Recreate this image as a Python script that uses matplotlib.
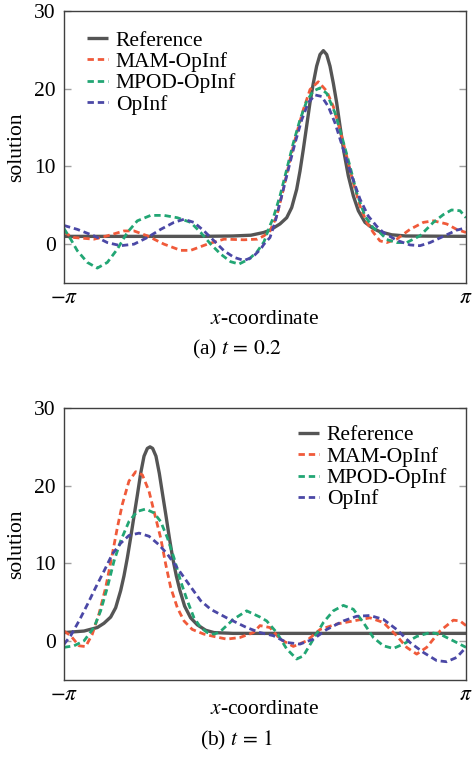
import matplotlib
matplotlib.use("Agg")
import matplotlib.pyplot as plt
import numpy as np

plt.rcParams["font.family"] = ["Liberation Serif", "DejaVu Serif"]
plt.rcParams["mathtext.fontset"] = "stix"

# ---- panel (a), t = 0.2 ----
a_ref_x = [-3.142, -1.0, -0.5, -0.22, -0.02, 0.078, 0.234, 0.339, 0.417, 0.495, 0.547, 0.599,
           0.651, 0.703, 0.755, 0.807, 0.860, 0.912, 0.964, 1.016, 1.068, 1.120, 1.172, 1.235,
           1.302, 1.381, 1.459, 1.563, 1.693, 1.797, 1.98, 2.2, 3.142]
a_ref_y = [1.0, 1.0, 1.05, 1.15, 1.5, 1.8, 2.6, 3.4, 4.7, 7.05, 9.4, 12.2,
           15.2, 18.2, 20.7, 22.9, 24.4, 24.9, 24.4, 22.9, 20.7, 18.2, 15.2, 11.8,
           8.8, 6.2, 4.3, 2.8, 2.0, 1.6, 1.2, 1.05, 1.0]

a_mam_x = [-3.142, -2.985, -2.673, -2.464, -2.204, -2.047, -1.839, -1.579, -1.318, -1.162, -0.901,
           -0.641, -0.328, -0.120, -0.016, 0.078, 0.183, 0.286, 0.391, 0.496, 0.599, 0.704, 0.833,
           0.964, 1.068, 1.172, 1.277, 1.380, 1.485, 1.590, 1.693, 1.797, 1.902, 2.058, 2.266,
           2.475, 2.631, 2.839, 2.995, 3.142]
a_mam_y = [1.5, 0.85, 0.64, 1.07, 1.7, 1.7, 1.07, 0.0, -0.8, -0.8, 0.0,
           0.64, 0.56, 0.64, 1.07, 1.7, 3.6, 7.05, 10.9, 14.3, 17.3, 19.9, 20.9,
           19.7, 17.7, 14.7, 11.3, 7.9, 4.9, 2.8, 1.5, 0.42, 0.2, 0.64, 1.9,
           2.8, 3.0, 2.6, 1.9, 1.5]

a_mpod_x = [-3.142, -3.037, -2.933, -2.777, -2.621, -2.464, -2.308, -2.152, -1.995, -1.787, -1.579,
            -1.370, -1.162, -1.005, -0.849, -0.693, -0.537, -0.406, -0.250, -0.125, -0.016, 0.078,
            0.130, 0.234, 0.339, 0.442, 0.547, 0.652, 0.755, 0.860, 0.964, 1.094, 1.199, 1.329,
            1.433, 1.563, 1.693, 1.797, 1.902, 2.058, 2.214, 2.422, 2.631, 2.787, 2.917, 3.048, 3.142]
a_mpod_y = [2.0, 0.64, -0.85, -2.35, -3.08, -2.35, -0.64, 1.5, 3.0, 3.7, 3.7,
            3.4, 2.8, 1.5, 0.0, -1.28, -2.26, -2.56, -1.92, -1.0, 0.3, 2.4,
            3.4, 6.2, 9.6, 13.0, 16.0, 18.4, 19.7, 20.1, 19.4, 16.9, 13.9, 10.0,
            6.6, 3.6, 2.1, 1.5, 0.6, 0.2, 0.2, 1.07, 2.8, 3.8, 4.4, 4.3, 3.4]

a_opinf_x = [-3.142, -2.933, -2.673, -2.464, -2.256, -2.047, -1.839, -1.631, -1.423, -1.266, -1.110,
             -0.953, -0.797, -0.641, -0.485, -0.328, -0.198, -0.068, -0.016, 0.078, 0.156, 0.261,
             0.364, 0.469, 0.574, 0.677, 0.782, 0.886, 0.990, 1.094, 1.224, 1.355, 1.485, 1.615,
             1.746, 1.849, 2.058, 2.266, 2.422, 2.579, 2.787, 2.995, 3.142]
a_opinf_y = [2.4, 1.9, 1.07, 0.2, -0.2, 0.0, 0.85, 1.9, 2.8, 3.2, 2.8,
             1.7, 0.43, -0.85, -1.7, -2.1, -1.7, -0.64, 0.0, 0.85, 2.8, 6.2,
             9.6, 13.0, 16.0, 18.2, 19.2, 19.0, 17.7, 15.6, 12.2, 8.8, 5.8, 3.6,
             2.3, 1.5, 0.5, -0.1, -0.2, 0.2, 1.0, 1.8, 2.1]

# ---- panel (b), t = 1 ----
b_ref_x = [-3.142, -2.829, -2.621, -2.517, -2.412, -2.334, -2.256, -2.204, -2.152, -2.100, -2.047,
           -1.995, -1.943, -1.891, -1.839, -1.797, -1.756, -1.704, -1.652, -1.599, -1.547, -1.495,
           -1.443, -1.386, -1.329, -1.256, -1.162, -1.058, -0.927, -0.797, -0.5, 3.142]
b_ref_y = [1.1, 1.3, 1.75, 2.3, 3.1, 4.3, 6.5, 8.4, 10.7, 13.3, 16.1,
           18.8, 21.6, 23.8, 24.8, 25.0, 24.8, 23.8, 21.6, 18.8, 16.1, 13.3,
           10.7, 8.4, 6.5, 4.5, 3.0, 2.1, 1.4, 1.1, 1.0, 1.0]

b_mam_x = [-3.142, -3.037, -2.907, -2.803, -2.699, -2.595, -2.490, -2.386, -2.308, -2.230, -2.126,
           -2.021, -1.917, -1.813, -1.735, -1.631, -1.552, -1.474, -1.370, -1.266, -1.136, -0.953,
           -0.797, -0.599, -0.391, -0.182, -0.078, 0.078, 0.235, 0.443, 0.651, 0.860, 1.120,
           1.381, 1.641, 1.850, 2.058, 2.214, 2.371, 2.527, 2.735, 2.944, 3.048, 3.142]
b_mam_y = [1.3, 0.7, -0.6, -0.7, 0.9, 3.5, 6.9, 11.2, 14.6, 17.6, 20.6,
           21.8, 21.4, 19.3, 16.7, 13.3, 9.9, 6.9, 4.3, 2.6, 1.5, 0.9,
           0.6, 0.26, 0.47, 1.1, 2.0, 1.75, 0.26, -0.68, 0.04, 1.5, 2.2,
           2.6, 3.0, 2.4, 0.7, -0.8, -1.67, -0.8, 1.3, 2.7, 2.6, 2.0]

b_mpod_x = [-3.142, -2.985, -2.829, -2.673, -2.569, -2.464, -2.360, -2.256, -2.126, -1.995, -1.865,
            -1.735, -1.631, -1.526, -1.422, -1.318, -1.214, -1.110, -1.005, -0.901, -0.797, -0.703,
            -0.495, -0.287, -0.078, 0.026, 0.183, 0.339, 0.495, 0.599, 0.756, 0.912, 1.068, 1.225,
            1.381, 1.537, 1.693, 1.850, 2.006, 2.162, 2.371, 2.579, 2.735, 2.944, 3.142]
b_mpod_y = [-0.8, -0.6, 0.04, 1.75, 3.9, 6.9, 10.3, 12.9, 15.4, 16.7, 17.0,
            16.5, 15.4, 13.3, 10.7, 7.7, 5.2, 3.0, 1.75, 1.1, 0.9, 1.2,
            2.8, 3.9, 3.1, 2.6, 1.1, -1.0, -2.3, -1.9, 0.26, 2.4, 3.9, 4.6,
            4.1, 2.4, 0.47, -0.6, -0.94, -0.38, 0.6, 1.1, 0.9, 0.04, -0.8]

b_opinf_x = [-3.142, -3.037, -2.907, -2.777, -2.647, -2.517, -2.386, -2.256, -2.126, -1.969, -1.813,
             -1.657, -1.526, -1.396, -1.266, -1.136, -1.005, -0.849, -0.599, -0.287, -0.078, 0.130,
             0.339, 0.547, 0.756, 0.964, 1.225, 1.433, 1.641, 1.850, 2.058, 2.266, 2.475, 2.683,
             2.839, 2.995, 3.142]
b_opinf_y = [-0.4, 0.7, 2.6, 4.7, 6.9, 9.0, 11.2, 12.6, 13.6, 13.9, 13.5,
             12.4, 11.2, 9.7, 8.2, 6.7, 5.2, 4.1, 3.0, 1.75, 1.1, 0.7,
             -0.17, -0.38, 0.26, 1.5, 2.6, 3.2, 3.3, 2.8, 1.5, -0.17, -1.45, -2.5,
             -2.65, -2.1, -0.8]

labels = ["Reference", "MAM-OpInf", "MPOD-OpInf", "OpInf"]
colors = ["#555555", "#F05A3A", "#22A674", "#4B48A6"]
y_ticks = [0, 10, 20, 30]
captions = [r"(a) $t\,=\,0.2$", r"(b) $t\,=\,1$"]

panels = [
    [(a_ref_x, a_ref_y), (a_mam_x, a_mam_y), (a_mpod_x, a_mpod_y), (a_opinf_x, a_opinf_y)],
    [(b_ref_x, b_ref_y), (b_mam_x, b_mam_y), (b_mpod_x, b_mpod_y), (b_opinf_x, b_opinf_y)],
]

W, H = 474, 783
fig = plt.figure(figsize=(W / 100, H / 100), dpi=100)
fs = 15.5

# axes boxes in pixels: left, top, right, bottom
boxes = [(64, 11, 466, 283), (64, 408, 466, 680)]
legend_locs = [(0.035, 0.96), (0.56, 0.968)]
text_rows = [(319, 349), (709, 740)]

for k, series in enumerate(panels):
    l, t, r, b = boxes[k]
    ax = fig.add_axes([l / W, 1 - b / H, (r - l) / W, (b - t) / H])
    for i, (xs, ys) in enumerate(series):
        if i == 0:
            ax.plot(xs, ys, color=colors[i], lw=2.4, label=labels[i],
                    solid_capstyle="butt", solid_joinstyle="round")
        else:
            ax.plot(xs, ys, color=colors[i], lw=2.0, dashes=(2.3, 1.4), label=labels[i])

    ax.set_xlim(-np.pi, np.pi)
    ax.set_ylim(-5, 30)
    ax.set_xticks([-np.pi, np.pi])
    ax.set_xticklabels([r"$-\pi$", r"$\pi$"], fontsize=fs)
    ax.set_yticks(y_ticks)
    ax.set_yticklabels([str(v) for v in y_ticks], fontsize=fs)
    ax.tick_params(axis="x", length=0, pad=4)
    ax.tick_params(axis="y", direction="in", length=5, width=1.0, color="#a0a0a0",
                   right=True, pad=6)
    for sp in ax.spines.values():
        sp.set_color("#404040")
        sp.set_linewidth(1.0)

    ax.set_ylabel("solution", fontsize=fs)
    ax.yaxis.set_label_coords(-0.095, 0.5)

    ax.legend(loc="upper left", bbox_to_anchor=legend_locs[k], frameon=False, fontsize=fs,
              handlelength=1.0, handletextpad=0.35, labelspacing=0.06, borderaxespad=0.0)

    fig.text((l + r) / 2 / W, 1 - text_rows[k][0] / H, r"$x$-coordinate", fontsize=fs,
             ha="center", va="center")
    fig.text(0.5, 1 - text_rows[k][1] / H, captions[k], fontsize=fs, ha="center", va="center")

fig.savefig("out.png", dpi=100)
